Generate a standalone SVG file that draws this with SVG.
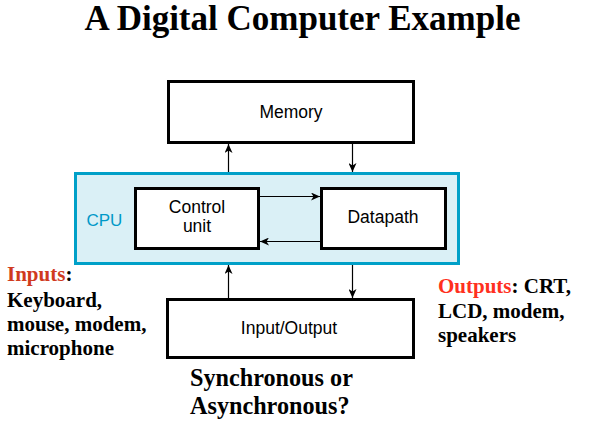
<svg xmlns="http://www.w3.org/2000/svg" width="589" height="437" viewBox="0 0 589 437">
<defs>
<style>
.box{fill:#fff;stroke:#000;stroke-width:3}
.cpu{fill:#DAF0F6;stroke:#00A0C8;stroke-width:3}
.lbl{font-family:"Liberation Sans",Arial,sans-serif;font-size:17.5px;fill:#000;text-anchor:middle}
.serif{font-family:"Liberation Serif","Times New Roman",serif;font-weight:bold;fill:#000}
.conn{stroke:#000;stroke-width:1.2;fill:none;marker-end:url(#ah)}
</style>
<marker id="ah" markerWidth="9" markerHeight="8" refX="9" refY="4" orient="auto" markerUnits="userSpaceOnUse">
<path d="M0,0 L9,4 L0,8 L2.5,4 Z" fill="#000"/>
</marker>
</defs>
<rect width="589" height="437" fill="#fff"/>
<text class="serif" x="302.5" y="30" font-size="35" text-anchor="middle">A Digital Computer Example</text>

<g id="cpu">
<rect class="cpu" x="75.5" y="173.5" width="383" height="90"/>
<text x="86.5" y="225.5" font-family="Liberation Sans,Arial,sans-serif" font-size="17" fill="#0099C8">CPU</text>
</g>
<g id="memory">
<rect class="box" x="168.5" y="81.5" width="245" height="61"/>
<text class="lbl" x="291" y="118">Memory</text>
</g>
<g id="control">
<rect class="box" x="135.5" y="188.5" width="123" height="60"/>
<text class="lbl" x="197" y="212.5">Control</text>
<text class="lbl" x="197" y="231.5">unit</text>
</g>
<g id="datapath">
<rect class="box" x="321.5" y="188.5" width="124" height="60"/>
<text class="lbl" x="383" y="223">Datapath</text>
</g>
<g id="io">
<rect class="box" x="167.5" y="299.5" width="246" height="58"/>
<text class="lbl" x="289" y="334">Input/Output</text>
</g>

<g id="connectors">
<line class="conn" x1="228.5" y1="172" x2="228.5" y2="144"/>
<line class="conn" x1="352.5" y1="144" x2="352.5" y2="172"/>
<line class="conn" x1="260" y1="196.5" x2="320" y2="196.5"/>
<line class="conn" x1="320" y1="241.5" x2="260" y2="241.5"/>
<line class="conn" x1="228.5" y1="298" x2="228.5" y2="265"/>
<line class="conn" x1="352.5" y1="265" x2="352.5" y2="298"/>
</g>

<g id="inputs" class="serif" font-size="21">
<text x="7" y="281"><tspan fill="#D03A1E">Inputs</tspan>:</text>
<text x="7" y="306.5">Keyboard,</text>
<text x="7" y="330.5">mouse, modem,</text>
<text x="7" y="354.5">microphone</text>
</g>
<g id="outputs" class="serif" font-size="21">
<text x="438" y="293"><tspan fill="#FF3020">Outputs</tspan>: CRT,</text>
<text x="438" y="317.5">LCD, modem,</text>
<text x="438" y="341.5">speakers</text>
</g>
<g id="question" class="serif" font-size="24.2">
<text x="190" y="385.5">Synchronous or</text>
<text x="190" y="413.5">Asynchronous?</text>
</g>
</svg>
